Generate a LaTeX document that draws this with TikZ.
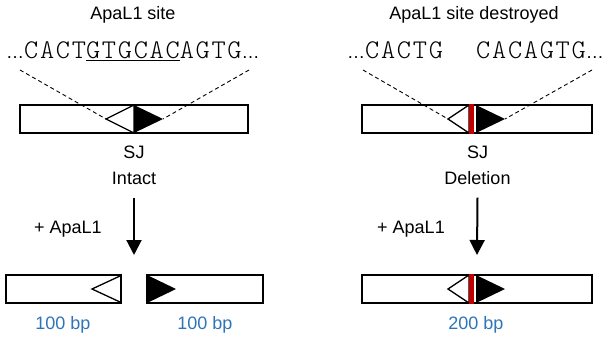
\documentclass[tikz,border=0pt]{standalone}
\usepackage{fontspec}
\setmainfont{Liberation Sans}
\newfontfamily\seqfont{lmmonolt10-regular.otf}[LetterSpace=6.4]
\usetikzlibrary{arrows.meta,positioning}
\definecolor{bpblue}{HTML}{2E75B6}
\definecolor{cutred}{HTML}{C00000}
\newcommand{\seqdots}{{\rmfamily\fontsize{18}{20}\selectfont…}}

\begin{document}
\begin{tikzpicture}[
    x=1pt, y=-1pt,
    lbl/.style={font=\fontsize{18}{26}\selectfont, inner sep=0pt, align=center},
    seq/.style={font=\seqfont\fontsize{27}{30}\selectfont, inner sep=0pt},
    bp/.style={lbl, text=bpblue},
    frag/.style={draw, line width=2.2pt, minimum height=28pt, inner sep=0pt, outer sep=0pt},
    guide/.style={dash pattern=on 4pt off 3pt, line width=0.9pt},
    opentri/.style={draw, fill=white, line width=1.3pt, line join=miter},
    filltri/.style={fill=black},
    cutarrow/.style={-{Triangle[length=15pt, width=15pt]}, line width=2pt}
  ]
    \useasboundingbox (0,0) rectangle (605,341);

    % intact junction
    \node[lbl] (titleA) at (133,15) {ApaL1 site};
    \node[seq, anchor=base west] (seqA) at (6,58)
      {\seqdots CACT\underline{GTGCAC}AGTG\seqdots};
    \node[frag, minimum width=228pt] (siteA) at (134,119) {};
    \coordinate (startA1) at (20,70);
    \coordinate (startA2) at (249,70);
    \coordinate (tipA1) at (106,119);
    \coordinate (tipA2) at (163,119);
    \draw[guide] (startA1) -- (tipA1);
    \draw[guide] (startA2) -- (tipA2);
    \draw[opentri] (134,105) -- (tipA1) -- (134,133) -- cycle;
    \fill[filltri] (134,105) -- (tipA2) -- (134,133) -- cycle;
    \draw[line width=0.8pt] (siteA.north) -- (siteA.south);
    \node[lbl] (sjA) at (134,165) {SJ\\Intact};
    \coordinate (cutA) at (134,255);
    \draw[cutarrow] (sjA.south) ++(0,13) -- (cutA);
    \node[lbl] (enzA) at (68,229) {+ ApaL1};

    \node[frag, minimum width=115pt] (leftA) at (63.5,289) {};
    \draw[opentri, fill=none] (120,276) -- (92,289) -- (120,302);
    \node[frag, minimum width=116pt] (rightA) at (205,289) {};
    \fill[filltri] (147,275) -- (176,289) -- (147,303) -- cycle;
    \node[bp] (bpA1) at (63,325) {100 bp};
    \node[bp] (bpA2) at (205,325) {100 bp};

    % deleted junction
    \node[lbl] (titleB) at (474,15) {ApaL1 site destroyed};
    \node[seq, anchor=base west] (seqB1) at (347,58) {\seqdots CACTG};
    \node[seq, anchor=base west] (seqB2) at (476,58) {CACAGTG\seqdots};
    \node[frag, minimum width=230pt] (siteB) at (477,119) {};
    \coordinate (startB1) at (363,70);
    \coordinate (startB2) at (592,70);
    \coordinate (tipB1) at (448,119);
    \coordinate (tipB2) at (505,119);
    \draw[guide] (startB1) -- (tipB1);
    \draw[guide] (startB2) -- (tipB2);
    \draw[opentri] (469,105) -- (tipB1) -- (469,133) -- cycle;
    \fill[filltri] (476,105) -- (tipB2) -- (476,133) -- cycle;
    \draw[line width=0.8pt] (476,105) -- (476,133);
    \fill[cutred] (469,104) rectangle (474,134);
    \node[lbl] (sjB) at (477.5,165) {SJ\\Deletion};
    \coordinate (cutB) at (477,255);
    \draw[cutarrow] (sjB.south) ++(0,13) -- (cutB);
    \node[lbl] (enzB) at (411,229) {+ ApaL1};

    \node[frag, minimum width=230pt] (fullB) at (477,289) {};
    \draw[opentri] (469,275) -- (448,289) -- (469,303) -- cycle;
    \fill[filltri] (476,275) -- (505,289) -- (476,303) -- cycle;
    \draw[line width=0.8pt] (476,275) -- (476,303);
    \fill[cutred] (469,274) rectangle (474,304);
    \node[bp] (bpB) at (476,325) {200 bp};
\end{tikzpicture}
\end{document}
